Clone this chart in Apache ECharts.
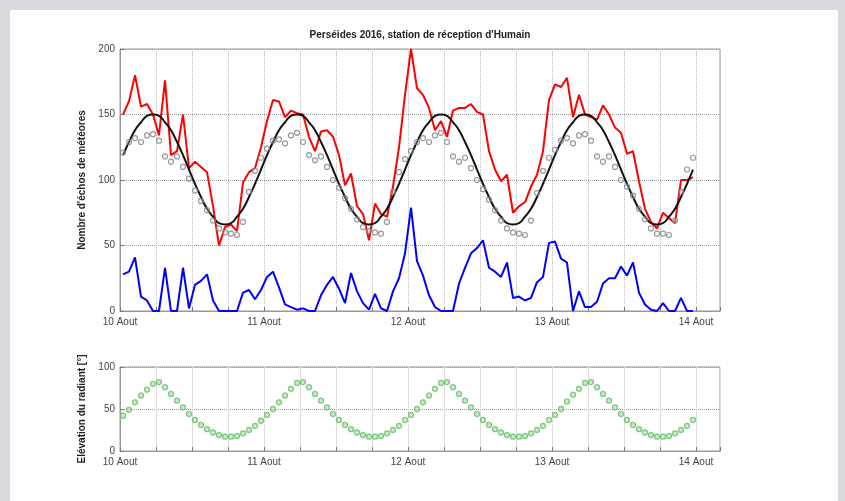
<!DOCTYPE html>
<html>
<head>
<meta charset="utf-8">
<script src="https://cdn.jsdelivr.net/npm/echarts@6/dist/echarts.min.js"></script>
<style>
  body { margin: 0; background: #dcd9de; }
  #frame { position: absolute; left: 10px; top: 10px; width: 828px; height: 491px; background: #fff; }
  #chart { position: absolute; left: 0; top: 0; width: 845px; height: 501px; }
</style>
</head>
<body>
<div id="frame"></div>
<div id="chart"></div>
<script>
// hourly values, 10 Aout 00h -> 14 Aout 00h (bin centred on the half hour)
var dayLabels = ['10 Aout', '11 Aout', '12 Aout', '13 Aout', '14 Aout'];

var echos = [150, 160, 180, 156, 158, 150, 134, 176, 119, 122,
             150, 109, 114, 110, 106, 80, 50, 64, 66, 61,
             98, 106, 109, 125, 145, 161, 160, 148, 153, 151,
             150, 133, 122, 137, 138, 133, 119, 96, 105, 80,
             74, 54, 82, 74, 72, 95, 125, 165, 200, 170,
             165, 155, 138, 145, 133, 153, 155, 155, 158, 152,
             150, 122, 108, 99, 104, 75, 80, 83, 95, 104,
             122, 161, 173, 171, 178, 148, 165, 150, 148, 146,
             157, 150, 140, 136, 120, 122, 99, 78, 68, 63,
             75, 71, 67, 100, 100, 102];

var ecart = [28, 30, 41, 11, 8, 0, 0, 33, 0, 0,
             33, 2, 20, 23, 28, 8, 0, 0, 0, 0,
             14, 16, 9, 16, 26, 30, 18, 5, 3, 1,
             2, 0, 0, 12, 20, 26, 17, 6, 29, 15,
             6, 1, 13, 2, 0, 15, 25, 44, 79, 38,
             27, 12, 3, 0, 0, 0, 21, 33, 44, 48,
             54, 33, 30, 26, 37, 10, 11, 8, 10, 22,
             26, 52, 53, 40, 37, 0, 15, 3, 3, 7,
             21, 25, 25, 34, 27, 37, 14, 5, 1, 0,
             6, 0, 0, 10, 0, 0];

var ajustement = [119, 129, 138, 144, 149, 150, 149, 144, 138, 129, 119, 108,
                  97, 87, 78, 72, 67, 66, 67, 72, 78, 87, 97, 108,
                  119, 129, 138, 144, 149, 150, 149, 144, 138, 129, 119, 108,
                  97, 87, 78, 72, 67, 66, 67, 72, 78, 87, 97, 108,
                  119, 129, 138, 144, 149, 150, 149, 144, 138, 129, 119, 108,
                  97, 87, 78, 72, 67, 66, 67, 72, 78, 87, 97, 108,
                  119, 129, 138, 144, 149, 150, 149, 144, 138, 129, 119, 108,
                  97, 87, 78, 72, 67, 66, 67, 72, 78, 87, 97, 108];

var moyenne = [121, 129, 132, 129, 134, 135, 130, 118, 114, 118, 110, 101,
               92, 84, 77, 69, 63, 60, 59, 58, 68, 91, 107, 117,
               124, 130, 131, 128, 134, 136, 129, 119, 115, 118, 110, 100,
               94, 86, 78, 70, 64, 61, 60, 59, 68, 91, 106, 116,
               122, 129, 132, 129, 134, 136, 129, 118, 114, 117, 109, 100,
               93, 85, 77, 69, 63, 60, 59, 58, 69, 90, 107, 117,
               123, 130, 132, 128, 134, 135, 130, 118, 114, 118, 110, 100,
               95, 88, 78, 70, 63, 59, 59, 58, 69, 91, 108, 117];

var elevation = [42, 49, 58, 66, 73, 80, 82, 76, 68, 60, 52, 44,
                 37, 31, 26, 22, 19, 17, 17, 18, 21, 25, 30, 36,
                 43, 50, 58, 66, 74, 81, 82, 76, 68, 60, 52, 44,
                 37, 31, 26, 22, 19, 17, 17, 18, 21, 25, 30, 37,
                 43, 50, 58, 66, 74, 81, 82, 76, 68, 60, 52, 44,
                 37, 31, 26, 22, 19, 17, 17, 18, 21, 25, 30, 37,
                 43, 50, 59, 67, 74, 81, 82, 76, 68, 60, 52, 44,
                 37, 31, 26, 22, 19, 17, 17, 18, 21, 25, 30, 37];

function pts(arr) {
    return arr.map(function (v, i) { return [i + 0.5, v]; });
}

var font = 'Liberation Sans';

function xAxisFor(gridIndex, gridType, gridColor) {
    return {
        type: 'value', gridIndex: gridIndex, min: 0, max: 100, interval: 6,
        axisLine: { show: true, lineStyle: { color: '#999', width: 1 } },
        axisTick: { show: true, inside: true, length: 4, lineStyle: { color: '#777' } },
        axisLabel: {
            color: '#444', fontFamily: font, fontSize: 10, margin: 6,
            formatter: function (v) { return v % 24 === 0 ? dayLabels[v / 24] : ''; }
        },
        splitLine: { show: true, lineStyle: { color: gridColor, type: gridType, width: 1 } }
    };
}

function yAxisFor(gridIndex, max, name) {
    return {
        type: 'value', gridIndex: gridIndex, min: 0, max: max, interval: 50,
        name: name, nameLocation: 'middle', nameGap: 26, nameRotate: 90,
        nameTextStyle: { color: '#222', fontFamily: font, fontSize: 10, fontWeight: 'bold' },
        axisLine: { show: true, lineStyle: { color: '#999', width: 1 } },
        axisTick: { show: true, inside: true, length: 4, lineStyle: { color: '#777' } },
        axisLabel: { color: '#444', fontFamily: font, fontSize: 10, margin: 5 },
        splitLine: { show: true, lineStyle: { color: '#999', type: 'dotted', width: 1 } }
    };
}

var chart = echarts.init(document.getElementById('chart'), null, { renderer: 'canvas' });

chart.setOption({
    animation: false,
    backgroundColor: 'transparent',
    graphic: [{
        type: 'text',
        style: {
            x: 420, y: 35, text: "Perséides 2016, station de réception d'Humain",
            textAlign: 'center', textVerticalAlign: 'middle',
            font: 'bold 10px "Liberation Sans"', fill: '#222'
        }
    }],
    grid: [
        { left: 120, top: 49, width: 600, height: 262, show: true, borderColor: '#999', borderWidth: 1 },
        { left: 120, top: 367, width: 600, height: 84, show: true, borderColor: '#999', borderWidth: 1 }
    ],
    xAxis: [xAxisFor(0, 'dotted', '#bbb'), xAxisFor(1, 'solid', '#ddd')],
    yAxis: [yAxisFor(0, 200, "Nombre d'échos de météores"), yAxisFor(1, 100, 'Elévation du radiant [°]')],
    series: [
        {
            type: 'line', xAxisIndex: 0, yAxisIndex: 0, data: pts(echos),
            showSymbol: false, lineStyle: { color: '#ff0000', width: 2 }, itemStyle: { color: '#ff0000' }, z: 2
        },
        {
            type: 'line', xAxisIndex: 0, yAxisIndex: 0, data: pts(ecart),
            showSymbol: false, lineStyle: { color: '#0000ff', width: 2 }, itemStyle: { color: '#0000ff' }, z: 2
        },
        {
            type: 'line', xAxisIndex: 0, yAxisIndex: 0, data: pts(ajustement), smooth: true,
            showSymbol: false, lineStyle: { color: '#111', width: 2 }, itemStyle: { color: '#111' }, z: 3
        },
        {
            type: 'scatter', xAxisIndex: 0, yAxisIndex: 0, data: pts(moyenne),
            symbol: 'circle', symbolSize: 5,
            itemStyle: { color: 'rgba(255,255,255,0.3)', borderColor: '#808080', borderWidth: 1.2 }, z: 4
        },
        {
            type: 'scatter', xAxisIndex: 1, yAxisIndex: 1, data: pts(elevation),
            symbol: 'circle', symbolSize: 5,
            itemStyle: { color: '#c2e6c2', borderColor: '#66bb66', borderWidth: 1.3 }, z: 4
        }
    ]
});
</script>
</body>
</html>
